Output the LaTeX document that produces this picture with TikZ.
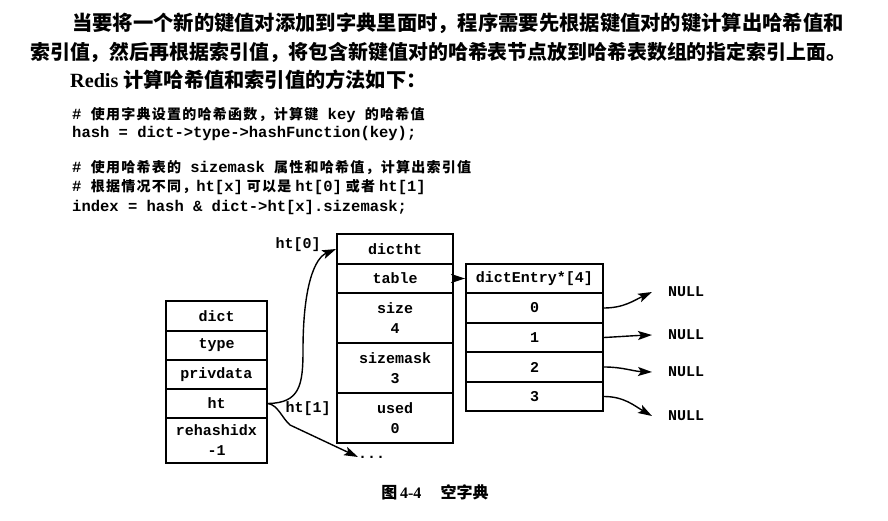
\documentclass[tikz,border=0pt]{standalone}
\usepackage{fontspec}
\setmainfont{Liberation Serif}
\setmonofont{Liberation Mono}
\newfontfamily\cjk{Noto Sans CJK SC}
\newfontfamily\cjkc[LetterSpace=9]{Noto Sans CJK SC}
\newcommand\cm[1]{{\cjkc\bfseries\fontsize{14}{18}\selectfont #1}}
\usetikzlibrary{arrows.meta}
\tikzset{
  cell/.style={draw, line width=1.9pt, font=\ttfamily\bfseries\fontsize{15}{20}\selectfont, align=center, inner sep=0pt},
  lbl/.style={font=\ttfamily\bfseries\fontsize{15}{18}\selectfont, inner sep=0pt},
  txt/.style={anchor=west, inner sep=0pt},
  code/.style={anchor=west, inner sep=0pt, font=\ttfamily\bfseries\fontsize{15.5}{18}\selectfont},
  arr/.style={line width=1.4pt, -{Stealth[length=14pt,width=9pt,inset=3pt]}},
}
\begin{document}
\begin{tikzpicture}[x=1pt,y=-1pt]
\useasboundingbox (0,0) rectangle (888,521);
% text
\node[txt, font=\cjk\bfseries\fontsize{20.3}{24}\selectfont] (l1) at (72,23) {当要将一个新的键值对添加到字典里面时，程序需要先根据键值对的键计算出哈希值和};
\node[txt, font=\cjk\bfseries\fontsize{19.9}{24}\selectfont] (l2) at (30,52) {索引值，然后再根据索引值，将包含新键值对的哈希表节点放到哈希表数组的指定索引上面。};
\node[txt, font=\fontsize{20.2}{24}\selectfont] (l3) at (70,80) {\textbf{Redis} {\cjk\bfseries 计算哈希值和索引值的方法如下：}};
% code
\node[code] (c1) at (72,115) {\# \cm{使用字典设置的哈希函数，计算键} key \cm{的哈希值}};
\node[code] (c2) at (72,133) {hash = dict->type->hashFunction(key);};
\node[code] (c3) at (72,168) {\# \cm{使用哈希表的} sizemask \cm{属性和哈希值，计算出索引值}};
\node[code] (c4) at (72,187) {\# \cm{根据情况不同，}ht[x]\hspace{4pt}\cm{可以是}\hspace{4pt}ht[0]\hspace{4pt}\cm{或者}\hspace{4pt}ht[1]};
\node[code] (c5) at (72,207) {index = hash \& dict->ht[x].sizemask;};
% dict
\node[cell, minimum width=101pt, minimum height=30pt] (d1) at (216.5,316) {dict};
\node[cell, minimum width=101pt, minimum height=29pt] (d2) at (216.5,345.5) {type};
\node[cell, minimum width=101pt, minimum height=29pt] (d3) at (216.5,374.5) {privdata};
\node[cell, minimum width=101pt, minimum height=29pt] (d4) at (216.5,403.5) {ht};
\node[cell, minimum width=101pt, minimum height=45pt] (d5) at (216.5,440.5) {rehashidx\\-1};
% dictht
\node[cell, minimum width=116pt, minimum height=30pt] (h1) at (395,249) {dictht};
\node[cell, minimum width=116pt, minimum height=29pt] (h2) at (395,278.5) {table};
\node[cell, minimum width=116pt, minimum height=50pt] (h3) at (395,318) {size\\4};
\node[cell, minimum width=116pt, minimum height=50pt] (h4) at (395,368) {sizemask\\3};
\node[cell, minimum width=116pt, minimum height=50pt] (h5) at (395,418) {used\\0};
% dictEntry
\node[cell, minimum width=137pt, minimum height=29pt] (e0) at (534.5,278.5) {dictEntry*[4]};
\node[cell, minimum width=137pt, minimum height=30pt] (e1) at (534.5,308) {0};
\node[cell, minimum width=137pt, minimum height=29pt] (e2) at (534.5,337.5) {1};
\node[cell, minimum width=137pt, minimum height=30pt] (e3) at (534.5,367) {2};
\node[cell, minimum width=137pt, minimum height=29pt] (e4) at (534.5,396.5) {3};
% NULLs
\node[lbl, anchor=west, inner xsep=16pt] (n0) at (652,292) {NULL};
\node[lbl, anchor=west, inner xsep=16pt] (n1) at (652,335) {NULL};
\node[lbl, anchor=west, inner xsep=16pt] (n2) at (652,372) {NULL};
\node[lbl, anchor=west, inner xsep=16pt] (n3) at (652,416) {NULL};
% labels
\node[lbl] (ht0) at (298,245) {ht[0]};
\node[lbl] (ht1) at (308,409) {ht[1]};
\node[lbl, anchor=west] (dots) at (358,457) {...};
% connectors
\draw[arr] (h2.east) -- (e0.west);
\draw[arr] (d4.east) .. controls (300,403) and (303,385) .. (303,350) .. controls (303,285) and (315,258) .. (h1.west);
\draw[arr] (d4.east) .. controls (278,405) and (282,418) .. (290,425) -- (dots.west);
\draw[arr] (e1.east) to[out=0,in=205] (n0.west);
\draw[arr] (e2.east) to[out=3,in=182] (n1.west);
\draw[arr] (e3.east) to[out=0,in=178] (n2.west);
\draw[arr] (e4.east) to[out=0,in=150] (n3.west);
% caption
\node[font=\fontsize{16}{20}\selectfont\bfseries] (cap) at (435,492) {{\cjk\bfseries 图}\,4-4\hspace{1.2em}{\cjk\bfseries 空字典}};
\end{tikzpicture}
\end{document}
